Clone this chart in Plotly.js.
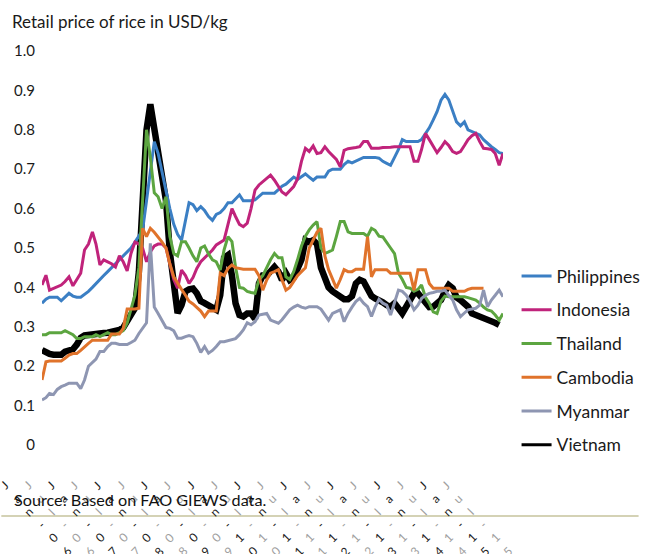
<!DOCTYPE html>
<html><head><meta charset="utf-8">
<script src="https://cdn.plot.ly/plotly-3.0.1.min.js"></script>
<style>html,body{margin:0;padding:0;background:#fff;}#chart{width:658px;height:554px;}</style>
</head><body><div id="chart"></div>
<script>
// Monthly dates Jan 2006 - Dec 2015
const months = [];
for (let y = 2006; y <= 2015; y++) for (let mo = 1; mo <= 12; mo++) months.push(y + '-' + String(mo).padStart(2, '0') + '-01');

const philippines = [0.36,0.37,0.375,0.375,0.375,0.366,0.375,0.385,0.378,0.375,
0.375,0.382,0.39,0.40,0.41,0.42,0.43,0.44,0.45,0.46,
0.47,0.48,0.49,0.50,0.515,0.53,0.545,0.62,0.69,0.77,
0.74,0.69,0.64,0.60,0.56,0.535,0.52,0.57,0.615,0.61,
0.595,0.605,0.595,0.58,0.57,0.585,0.59,0.60,0.615,0.615,
0.625,0.635,0.62,0.62,0.62,0.622,0.63,0.639,0.639,0.639,
0.639,0.648,0.657,0.662,0.67,0.68,0.674,0.68,0.688,0.68,
0.672,0.68,0.68,0.68,0.695,0.70,0.70,0.70,0.712,0.72,
0.716,0.72,0.724,0.73,0.73,0.73,0.73,0.728,0.72,0.715,
0.71,0.73,0.75,0.775,0.77,0.77,0.77,0.77,0.775,0.79,
0.805,0.825,0.846,0.875,0.89,0.876,0.85,0.82,0.81,0.82,
0.80,0.795,0.79,0.787,0.775,0.765,0.757,0.75,0.742,0.74];

const indonesia = [0.406,0.431,0.393,0.397,0.40,0.406,0.415,0.427,0.404,0.42,
0.436,0.495,0.51,0.541,0.51,0.457,0.47,0.465,0.46,0.452,
0.48,0.465,0.442,0.486,0.515,0.51,0.50,0.465,0.49,0.505,
0.51,0.51,0.50,0.46,0.42,0.398,0.444,0.43,0.41,0.425,
0.448,0.465,0.475,0.486,0.495,0.508,0.515,0.52,0.56,0.60,
0.58,0.56,0.554,0.563,0.60,0.647,0.66,0.668,0.678,0.685,
0.672,0.655,0.642,0.635,0.645,0.656,0.675,0.72,0.753,0.745,
0.759,0.74,0.742,0.757,0.745,0.736,0.725,0.706,0.748,0.752,
0.753,0.755,0.757,0.77,0.77,0.753,0.753,0.753,0.755,0.755,
0.756,0.757,0.757,0.757,0.757,0.757,0.72,0.72,0.75,0.791,
0.775,0.757,0.742,0.755,0.77,0.76,0.745,0.74,0.745,0.76,
0.775,0.785,0.791,0.77,0.753,0.752,0.75,0.74,0.71,0.74];

const thailand = [0.28,0.28,0.285,0.285,0.285,0.285,0.29,0.285,0.28,0.27,
0.27,0.275,0.275,0.275,0.28,0.275,0.28,0.285,0.28,0.28,
0.285,0.29,0.31,0.345,0.38,0.45,0.63,0.80,0.73,0.64,
0.63,0.60,0.63,0.53,0.486,0.48,0.516,0.516,0.50,0.48,
0.465,0.50,0.505,0.485,0.47,0.465,0.444,0.495,0.529,0.516,
0.452,0.40,0.398,0.39,0.387,0.385,0.419,0.43,0.45,0.47,
0.486,0.475,0.475,0.427,0.42,0.44,0.47,0.505,0.53,0.546,
0.558,0.567,0.50,0.486,0.49,0.495,0.529,0.567,0.567,0.541,
0.537,0.537,0.537,0.537,0.53,0.55,0.545,0.53,0.528,0.515,
0.50,0.486,0.436,0.42,0.40,0.398,0.39,0.395,0.406,0.375,
0.36,0.338,0.334,0.365,0.378,0.376,0.376,0.376,0.376,0.376,
0.374,0.37,0.368,0.36,0.35,0.343,0.34,0.33,0.317,0.334];

const cambodia = [0.165,0.211,0.213,0.213,0.213,0.213,0.22,0.228,0.232,0.232,
0.24,0.25,0.258,0.266,0.266,0.266,0.266,0.266,0.282,0.282,
0.282,0.296,0.345,0.345,0.345,0.347,0.55,0.529,0.55,0.54,
0.529,0.515,0.50,0.46,0.427,0.41,0.395,0.38,0.365,0.358,
0.35,0.34,0.326,0.34,0.34,0.34,0.436,0.43,0.448,0.457,
0.45,0.447,0.446,0.446,0.446,0.446,0.43,0.393,0.419,0.436,
0.44,0.445,0.419,0.393,0.40,0.415,0.43,0.44,0.45,0.50,
0.52,0.54,0.55,0.48,0.445,0.419,0.398,0.42,0.445,0.44,
0.44,0.446,0.446,0.446,0.529,0.427,0.445,0.445,0.445,0.445,
0.436,0.436,0.436,0.436,0.436,0.436,0.393,0.445,0.445,0.445,
0.41,0.398,0.398,0.398,0.398,0.398,0.39,0.39,0.39,0.39,
0.395,0.398,0.398,0.398,0.398,null,null,null,null,null];

const myanmar = [0.114,0.12,0.131,0.128,0.141,0.148,0.152,0.157,0.157,0.157,
0.143,0.165,0.20,0.21,0.218,0.237,0.237,0.25,0.258,0.258,
0.255,0.255,0.255,0.26,0.266,0.283,0.296,0.31,0.512,0.35,
0.334,0.315,0.298,0.296,0.29,0.271,0.271,0.275,0.278,0.275,
0.258,0.235,0.25,0.233,0.24,0.25,0.262,0.262,0.265,0.267,
0.27,0.28,0.292,0.31,0.305,0.313,0.33,0.332,0.334,0.317,
0.313,0.309,0.318,0.33,0.343,0.35,0.355,0.35,0.347,0.351,
0.351,0.351,0.345,0.33,0.317,0.334,0.338,0.343,0.313,0.334,
0.35,0.364,0.372,0.36,0.351,0.326,0.35,0.37,0.36,0.355,
0.33,0.36,0.393,0.39,0.38,0.364,0.343,0.355,0.372,0.38,
0.385,0.387,0.39,0.39,0.393,0.38,0.368,0.343,0.326,0.335,
0.343,0.345,0.347,0.355,0.393,0.351,0.368,0.38,0.393,0.376];

const vietnam = [0.241,0.235,0.231,0.229,0.229,0.229,0.237,0.241,0.243,0.255,
0.272,0.278,0.28,0.28,0.28,0.283,0.284,0.285,0.286,0.288,
0.292,0.298,0.315,0.335,0.347,0.44,0.64,0.80,0.865,0.80,
0.75,0.68,0.62,0.49,0.40,0.335,0.355,0.39,0.395,0.397,
0.385,0.365,0.36,0.355,0.35,0.343,0.38,0.475,0.482,0.43,
0.36,0.33,0.326,0.334,0.334,0.32,0.41,0.43,0.43,0.44,
0.452,0.44,0.419,0.436,0.419,0.425,0.445,0.47,0.52,0.515,
0.52,0.51,0.45,0.42,0.40,0.39,0.383,0.38,0.37,0.37,
0.378,0.41,0.419,0.415,0.395,0.378,0.372,0.368,0.362,0.355,
0.351,0.36,0.345,0.334,0.351,0.37,0.385,0.385,0.375,0.36,
0.35,0.351,0.36,0.368,0.39,0.406,0.398,0.375,0.368,0.36,
0.351,0.334,0.33,0.33,0.325,0.32,0.314,0.31,0.305,null];

const yTickVals = [0,0.1,0.2,0.3,0.4,0.5,0.6,0.7,0.8,0.9,1.0];
const yTickText = ['0','0.1','0.2','0.3','0.4','0.5','0.6','0.7','0.8','0.9','1.0'];

const labelMonths = ['2006-01-01','2006-07-01','2007-01-01','2007-07-01','2008-01-01','2008-07-01','2009-01-01','2009-07-01','2010-01-01','2010-07-01',
'2011-01-01','2011-07-01','2012-01-01','2012-07-01','2013-01-01','2013-07-01','2014-01-01','2014-07-01','2015-01-01','2015-07-01'];
const labelTexts = ['Jan-06','Jul-06','Jan-07','Jul-07','Jan-08','Jul-08','Jan-09','Jul-09','Jan-10','Jul-10',
'Jan-11','Jul-11','Jan-12','Jul-12','Jan-13','Jul-13','Jan-14','Jul-14','Jan-15','Jul-15'];

const FONT = 'Lato, "Open Sans", sans-serif';

const series = [
  {name:'Vietnam', y:vietnam, color:'#000000', width:6.5, rank:6},
  {name:'Philippines', y:philippines, color:'#3b7fc4', width:3, rank:1},
  {name:'Indonesia', y:indonesia, color:'#c0237b', width:3, rank:2},
  {name:'Thailand', y:thailand, color:'#5ca540', width:3, rank:3},
  {name:'Cambodia', y:cambodia, color:'#e0732b', width:3, rank:4},
  {name:'Myanmar', y:myanmar, color:'#8e96b2', width:3, rank:5}
];

const traces = series.map(s => ({
  type:'scatter', mode:'lines', name:s.name, x:months, y:s.y,
  line:{color:s.color, width:s.width, shape:'linear'},
  legendrank:s.rank, legendgroup:s.name, connectgaps:false,
  showlegend: s.name !== 'Vietnam',
  hoverinfo:'skip'
}));
// legend entry for Vietnam drawn with a thinner key line, as in the reference
traces.push({type:'scatter', mode:'lines', name:'Vietnam', x:[months[0]], y:[null],
  line:{color:'#000000', width:3}, legendrank:6, legendgroup:'VietnamKey', showlegend:true, hoverinfo:'skip'});

// Plot area: x 42..518, y 51..445
const plotL = 42, plotR = 518, plotT = 51, plotB = 445;
const plotH = plotB - plotT, plotW = plotR - plotL;

const annotations = [];
labelTexts.forEach((t, k) => {
  const isJan = t.startsWith('Jan');
  t.split('').forEach((ch, i) => {
    annotations.push({
      x: labelMonths[k], xref:'x', y:0, yref:'paper',
      xshift: -38 + 12.4 * i, yshift: -(485 + 13.2 * i - plotB),
      text: ch, showarrow:false, textangle:-45,
      xanchor:'center', yanchor:'middle',
      font:{family:FONT, size:12, color: isJan ? '#222222' : '#a0a0a0'}
    });
  });
});
annotations.push({
  x: (11 - plotL) / plotW, xref:'paper', y: (plotB - 500) / plotH, yref:'paper',
  xanchor:'left', yanchor:'middle', showarrow:false,
  text:'Source: Based on FAO GIEWS data.',
  font:{family:FONT, size:16.2, color:'#111111'}
});

const layout = {
  width:658, height:554,
  margin:{l:plotL, r:658 - plotR, t:plotT, b:554 - plotB, pad:0},
  paper_bgcolor:'#ffffff', plot_bgcolor:'#ffffff',
  title:{text:'Retail price of rice in USD/kg', font:{family:FONT, size:17, color:'#1a1a1a'},
    x:12/658, xanchor:'left', xref:'container', y:1 - 22/554, yanchor:'middle', yref:'container'},
  xaxis:{type:'date', range:['2006-01-01','2015-12-01'], showticklabels:false, showgrid:false,
    zeroline:false, showline:false, ticks:''},
  yaxis:{range:[0,1.0], tickvals:yTickVals, ticktext:yTickText, showgrid:false, zeroline:false,
    showline:false, ticks:'', tickfont:{family:FONT, size:15, color:'#1a1a1a'}, ticklabelstandoff:6},
  showlegend:true,
  legend:{x:(532 - plotL)/plotW, xanchor:'left', y:(plotB - 258)/plotH, yanchor:'top',
    font:{family:FONT, size:17.5, color:'#1a1a1a'}, tracegroupgap:8, itemwidth:30,
    bgcolor:'rgba(0,0,0,0)', borderwidth:0, traceorder:'grouped'},
  shapes:[{type:'line', xref:'paper', yref:'paper',
    x0:(0 - plotL)/plotW, x1:(658 - plotL)/plotW,
    y0:(plotB - 516)/plotH, y1:(plotB - 516)/plotH,
    line:{color:'#c6c39c', width:1.5}}],
  annotations:annotations
};

Plotly.newPlot('chart', traces, layout, {staticPlot:true, displayModeBar:false});
</script></body></html>
